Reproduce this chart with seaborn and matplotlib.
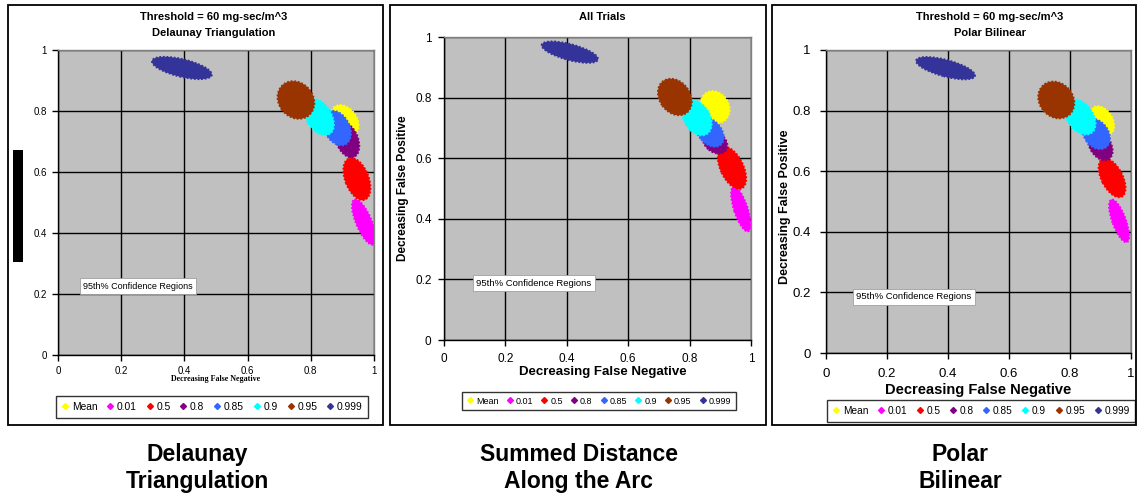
import numpy as np
import pandas as pd
import matplotlib
matplotlib.use('Agg')
import matplotlib.pyplot as plt
from matplotlib.patches import Ellipse, Rectangle
from matplotlib.lines import Line2D
import seaborn as sns

# series of the 95% confidence regions (legend order = drawing order)
series = ['Mean', '0.01', '0.5', '0.8', '0.85', '0.9', '0.95', '0.999']
colors = ['#FFFF00', '#FF00FF', '#FF0000', '#800080', '#3366FF', '#00FFFF', '#993300', '#333399']
tick_vals = [0, 0.2, 0.4, 0.6, 0.8, 1]
tick_labels = ['0', '0.2', '0.4', '0.6', '0.8', '1']

# Delaunay triangulation: region centre (false neg, false pos), extent and tilt
dt_fn = [0.908, 0.968, 0.946, 0.915, 0.883, 0.826, 0.753, 0.392]
dt_fp = [0.770, 0.436, 0.577, 0.705, 0.744, 0.780, 0.836, 0.941]
dt_major = [0.110, 0.160, 0.145, 0.120, 0.120, 0.130, 0.130, 0.195]
dt_minor = [0.075, 0.050, 0.075, 0.070, 0.080, 0.080, 0.110, 0.058]
dt_angle = [-55, -68, -70, -70, -65, -60, -55, -14]

# all trials (summed distance along the arc)
at_fn = [0.883, 0.967, 0.938, 0.883, 0.866, 0.824, 0.752, 0.410]
at_fp = [0.769, 0.432, 0.568, 0.653, 0.686, 0.733, 0.802, 0.950]
at_major = [0.110, 0.155, 0.150, 0.090, 0.110, 0.125, 0.130, 0.190]
at_minor = [0.090, 0.045, 0.075, 0.065, 0.075, 0.085, 0.100, 0.053]
at_angle = [-60, -72, -65, -40, -50, -60, -55, -15]

# polar bilinear
pb_fn = [0.905, 0.961, 0.938, 0.899, 0.886, 0.833, 0.755, 0.392]
pb_fp = [0.766, 0.436, 0.578, 0.686, 0.723, 0.779, 0.835, 0.940]
pb_major = [0.105, 0.150, 0.140, 0.110, 0.110, 0.130, 0.130, 0.200]
pb_minor = [0.070, 0.045, 0.070, 0.070, 0.080, 0.085, 0.110, 0.055]
pb_angle = [-60, -70, -63, -60, -55, -55, -50, -15]

W, H = 1140, 498

sns.set_style('white')
plt.rcParams['font.family'] = ['Liberation Sans', 'DejaVu Sans']
plt.rcParams['text.color'] = 'black'
plt.rcParams['axes.labelcolor'] = 'black'
plt.rcParams['xtick.color'] = 'black'
plt.rcParams['ytick.color'] = 'black'

fig = plt.figure(figsize=(W / 100, H / 100), dpi=100)


def px(x0, y0, x1, y1):
    # pixel box -> figure fraction rect
    return [x0 / W, 1 - y1 / H, (x1 - x0) / W, (y1 - y0) / H]


panels = [
    dict(fn=dt_fn, fp=dt_fp, major=dt_major, minor=dt_minor, angle=dt_angle,
         rect=px(58, 50, 374, 355), frame=(8, 5, 383, 425),
         title=['Threshold = 60 mg-sec/m^3', 'Delaunay Triangulation'], title_x=214,
         tick_fs=7, tick_pad=4, xlabel_fs=5.8, xlabel_font='Liberation Serif',
         xlabel_xy=(0.5, -0.066), ylabel=None, ylabel_xy=None, ylabel_fs=0,
         leg_xy=(212, 407), leg_fs=7.4, note_xy=(0.08, 0.226), note_fs=6.5),
    dict(fn=at_fn, fp=at_fp, major=at_major, minor=at_minor, angle=at_angle,
         rect=px(444, 37, 751, 340), frame=(390, 5, 766, 425),
         title=['All Trials'], title_x=602,
         tick_fs=8.5, tick_pad=5, xlabel_fs=9.5, xlabel_font='Liberation Sans',
         xlabel_xy=(0.518, -0.085), ylabel='Decreasing False Positive', ylabel_xy=(-0.114, 0.5),
         ylabel_fs=8.5, leg_xy=(599, 401), leg_fs=6.5, note_xy=(0.105, 0.188), note_fs=6.8),
    dict(fn=pb_fn, fp=pb_fp, major=pb_major, minor=pb_minor, angle=pb_angle,
         rect=px(826, 50, 1131, 353), frame=(772, 5, 1136, 425),
         title=['Threshold = 60 mg-sec/m^3', 'Polar Bilinear'], title_x=990,
         tick_fs=9.5, tick_pad=7, xlabel_fs=10.5, xlabel_font='Liberation Sans',
         xlabel_xy=(0.5, -0.099), ylabel='Decreasing False Positive', ylabel_xy=(-0.114, 0.482),
         ylabel_fs=9, leg_xy=(981, 411), leg_fs=7.3, note_xy=(0.1, 0.185), note_fs=6.8),
]

for p in panels:
    # outer chart frame
    x0, y0, x1, y1 = p['frame']
    fig.add_artist(Rectangle((x0 / W, 1 - y1 / H), (x1 - x0) / W, (y1 - y0) / H,
                             transform=fig.transFigure, fill=False, ec='black', lw=1.3))

    ax = fig.add_axes(p['rect'])
    ax.set_facecolor('#C0C0C0')
    df = pd.DataFrame({'fn': p['fn'], 'fp': p['fp'], 'series': series})
    sns.scatterplot(data=df, x='fn', y='fp', hue='series', palette=dict(zip(series, colors)),
                    marker='D', s=10, linewidth=0, legend=False, ax=ax, zorder=1)
    for i in range(len(series)):
        ax.add_patch(Ellipse((p['fn'][i], p['fp'][i]), p['major'][i], p['minor'][i],
                             angle=p['angle'][i], fc=colors[i], ec=colors[i], lw=1.3,
                             ls=(0, (1, 1)), zorder=2 + i))

    ax.set_xlim(0, 1)
    ax.set_ylim(0, 1)
    ax.set_xticks(tick_vals, tick_labels)
    ax.set_yticks(tick_vals, tick_labels)
    ax.grid(True, color='black', lw=1)
    ax.set_axisbelow(True)
    ax.tick_params(direction='out', length=4, width=1, color='black',
                   labelsize=p['tick_fs'], pad=p['tick_pad'], bottom=True, left=True)
    for s in ['left', 'bottom']:
        ax.spines[s].set_color('black')
        ax.spines[s].set_linewidth(1)
    for s in ['top', 'right']:
        ax.spines[s].set_color('#808080')
        ax.spines[s].set_linewidth(1)

    ax.set_xlabel('Decreasing False Negative', fontsize=p['xlabel_fs'], fontweight='bold',
                  family=p['xlabel_font'])
    ax.xaxis.set_label_coords(*p['xlabel_xy'])
    if p['ylabel']:
        ax.set_ylabel(p['ylabel'], fontsize=p['ylabel_fs'], fontweight='bold')
        ax.yaxis.set_label_coords(*p['ylabel_xy'])
    else:
        ax.set_ylabel('')

    # titles
    for k, t in enumerate(p['title']):
        fig.text(p['title_x'] / W, 1 - (17 + 16 * k) / H, t, ha='center', va='center',
                 fontsize=8, fontweight='bold')

    ax.text(p['note_xy'][0], p['note_xy'][1], '95th% Confidence Regions', fontsize=p['note_fs'],
            ha='left', va='center', zorder=20,
            bbox=dict(boxstyle='square,pad=0.35', fc='white', ec='#A0A0A0', lw=0.6))

    handles = [Line2D([], [], marker='D', ls='none', color=c, markersize=3) for c in colors]
    leg = ax.legend(handles, series, loc='center', ncol=8,
                    bbox_to_anchor=(p['leg_xy'][0] / W, 1 - p['leg_xy'][1] / H),
                    bbox_transform=fig.transFigure, fontsize=p['leg_fs'], frameon=True,
                    fancybox=False, edgecolor='black', handlelength=0.7, handletextpad=0.3,
                    columnspacing=0.9, borderpad=0.55)
    leg.get_frame().set_linewidth(1)

# redaction bar on the left chart
fig.add_artist(Rectangle((13 / W, 1 - 262 / H), 10 / W, 112 / H, transform=fig.transFigure,
                         fc='black', ec='none'))

# method names under the charts
captions = [('Delaunay\nTriangulation', 197), ('Summed Distance\nAlong the Arc', 579),
            ('Polar\nBilinear', 960)]
for text, cx in captions:
    fig.text(cx / W, 1 - 468 / H, text, ha='center', va='center', fontsize=16.5,
             fontweight='bold', family=['Liberation Sans Narrow', 'Liberation Sans'],
             linespacing=1.2)

fig.savefig('out.png', dpi=100)
